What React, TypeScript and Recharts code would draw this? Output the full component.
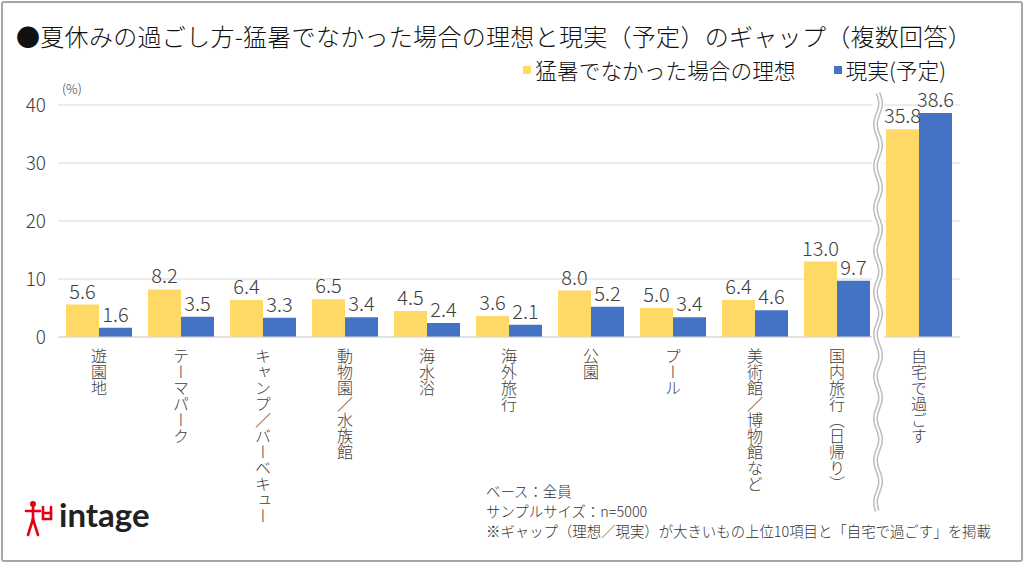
import { BarChart, Bar, XAxis, YAxis, CartesianGrid, LabelList } from "recharts";

const CATEGORIES = [
  "遊園地",
  "テーマパーク",
  "キャンプ／バーベキュー",
  "動物園／水族館",
  "海水浴",
  "海外旅行",
  "公園",
  "プール",
  "美術館／博物館など",
  "国内旅行（日帰り）",
  "自宅で過ごす",
];
const IDEAL = [5.6, 8.2, 6.4, 6.5, 4.5, 3.6, 8.0, 5.0, 6.4, 13.0, 35.8];
const ACTUAL = [1.6, 3.5, 3.3, 3.4, 2.4, 2.1, 5.2, 3.4, 4.6, 9.7, 38.6];
const Y_TICKS = [0, 10, 20, 30, 40];

const SERIES_NAMES = ["猛暑でなかった場合の理想", "現実(予定)"];
const NOTES = [
  "ベース：全員",
  "サンプルサイズ：n=5000",
  "※ギャップ（理想／現実）が大きいもの上位10項目と「自宅で過ごす」を掲載",
];

const YELLOW = "#FFD966";
const BLUE = "#4472C4";
const TEXT = "#404040";
const FONT = "'Noto Sans CJK JP', 'Noto Sans', sans-serif";

const data = CATEGORIES.map((name, i) => ({ name, ideal: IDEAL[i], actual: ACTUAL[i] }));

function VerticalTick({ x, y, payload }: any) {
  return (
    <text
      x={x}
      y={y}
      fill={TEXT}
      fontSize={16}
      fontWeight={300}
      fontFamily={FONT}
      style={{ writingMode: "vertical-rl" }}
    >
      {payload.value}
    </text>
  );
}

// wavy double line marking the axis break before the last category
function wavePath(cx: number, y0: number, y1: number) {
  let d = `M ${cx} ${y0}`;
  for (let y = y0; y <= y1; y += 2) {
    const x = cx + 2.5 * Math.sin(((y - y0) / 42) * Math.PI * 2);
    d += ` L ${x.toFixed(2)} ${y}`;
  }
  return d;
}

function Logo() {
  return (
    <div style={{ position: "absolute", left: 24, top: 496, display: "flex", alignItems: "center" }}>
      <svg width={30} height={44} viewBox="0 0 30 42">
        <g stroke="#E50012" strokeWidth={2.6} fill="none" strokeLinecap="round">
          <circle cx={9} cy={7} r={3} fill="#E50012" stroke="none" />
          <path d="M2 14 L16 14" />
          <path d="M9 10 L9 24" />
          <path d="M9 22 L4 38" />
          <path d="M9 22 L14 38" />
          <path d="M19 10 L19 22" />
          <path d="M27 10 L27 22" />
          <path d="M19 16 L27 16" />
          <path d="M19 22 L27 22" />
        </g>
      </svg>
      <span
        style={{
          fontFamily: "Lato, 'Open Sans', sans-serif",
          fontWeight: 700,
          fontSize: 33,
          color: "#222",
          marginLeft: 5,
          marginTop: -8,
        }}
      >
        intage
      </span>
    </div>
  );
}

export default function App() {
  return (
    <div
      style={{
        position: "absolute",
        left: 0,
        top: 0,
        width: 1024,
        height: 563,
        background: "#fff",
        fontFamily: FONT,
        fontWeight: 300,
        color: TEXT,
        overflow: "hidden",
      }}
    >
      <div
        style={{
          position: "absolute",
          left: 1,
          top: 1,
          width: 1018,
          height: 557,
          border: "2px solid #a6a6a6",
          borderRadius: 3,
        }}
      />
      <div
        style={{
          position: "absolute",
          left: 16,
          top: 20,
          fontSize: 24,
          color: "#111",
          whiteSpace: "nowrap",
          lineHeight: "32px",
          letterSpacing: 0.3,
        }}
      >
        ●夏休みの過ごし方-猛暑でなかった場合の理想と現実（予定）のギャップ（複数回答）
      </div>

      <div
        style={{
          position: "absolute",
          right: 78,
          top: 56,
          display: "flex",
          alignItems: "center",
          fontSize: 21.7,
          color: "#111",
          lineHeight: "28px",
        }}
      >
        {SERIES_NAMES.map((s, i) => (
          <div key={s} style={{ display: "flex", alignItems: "center", marginLeft: i ? 38 : 0 }}>
            <span style={{ width: 8, height: 8, background: i ? BLUE : YELLOW, marginRight: 4 }} />
            {s}
          </div>
        ))}
      </div>

      <div style={{ position: "absolute", left: 62, top: 79, fontSize: 13 }}>(%)</div>

      <div style={{ position: "absolute", left: 0, top: 0 }}>
        <BarChart
          width={1024}
          height={563}
          data={data}
          margin={{ top: 105, right: 64, bottom: 196, left: 20 }}
          barGap={0}
          barSize={33}
        >
          <CartesianGrid vertical={false} stroke="#d9d9d9" />
          <XAxis
            dataKey="name"
            height={30}
            interval={0}
            tickSize={0}
            tickMargin={11}
            tickLine={false}
            axisLine={{ stroke: "#d9d9d9" }}
            tick={<VerticalTick />}
          />
          <YAxis
            width={38}
            domain={[0, 40]}
            ticks={Y_TICKS}
            tickSize={0}
            tickMargin={12}
            tickLine={false}
            axisLine={false}
            tick={{ fill: TEXT, fontSize: 19, fontWeight: 300, fontFamily: FONT }}
          />
          <Bar dataKey="ideal" fill={YELLOW} isAnimationActive={false}>
            <LabelList
              dataKey="ideal"
              position="top"
              offset={6}
              fill={TEXT}
              fontSize={20}
              fontWeight={300}
              fontFamily={FONT}
              formatter={(v: any) => Number(v).toFixed(1)}
            />
          </Bar>
          <Bar dataKey="actual" fill={BLUE} isAnimationActive={false}>
            <LabelList
              dataKey="actual"
              position="top"
              offset={6}
              fill={TEXT}
              fontSize={20}
              fontWeight={300}
              fontFamily={FONT}
              formatter={(v: any) => Number(v).toFixed(1)}
            />
          </Bar>
        </BarChart>
      </div>

      <svg width={1024} height={563} style={{ position: "absolute", left: 0, top: 0, pointerEvents: "none" }}>
        <rect x={872} y={92} width={12} height={250} fill="#fff" />
        <path d={wavePath(878, 93, 512)} stroke="#bdbdbd" strokeWidth={5} fill="none" />
        <path d={wavePath(878, 93, 512)} stroke="#fff" strokeWidth={2} fill="none" />
      </svg>

      <div style={{ position: "absolute", left: 486, top: 481, fontSize: 14.4, lineHeight: "20px", color: "#333" }}>
        {NOTES.map((n) => (
          <div key={n} style={{ whiteSpace: "nowrap" }}>
            {n}
          </div>
        ))}
      </div>

      <Logo />
    </div>
  );
}
